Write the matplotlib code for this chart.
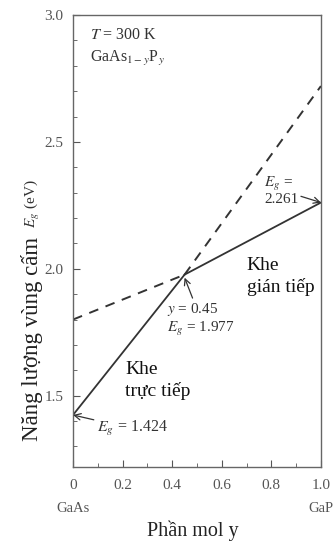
import matplotlib.pyplot as plt
from matplotlib.ticker import MultipleLocator

plt.rcParams['font.family'] = ['Liberation Serif', 'DejaVu Serif']
plt.rcParams['mathtext.fontset'] = 'stix'

# mole fraction y and band gap values (eV)
direct_y = [0.0, 0.45]
direct_E = [1.424, 1.977]
direct_ext_y = [0.45, 1.0]
direct_ext_E = [1.977, 2.72]
indirect_y = [0.45, 1.0]
indirect_E = [1.977, 2.261]
indirect_ext_y = [0.0, 0.45]
indirect_ext_E = [1.80, 1.977]

xticks = [0, 0.2, 0.4, 0.6, 0.8, 1.0]
xtick_labels = ['0', '0.2', '0.4', '0.6', '0.8', '1.0']
yticks = [1.5, 2.0, 2.5, 3.0]

fig = plt.figure(figsize=(3.35, 5.55), dpi=100)
ax = fig.add_axes([0.218, 0.159, 0.740, 0.814])

ax.plot(direct_y, direct_E, color='#333333', lw=1.3)
ax.plot(indirect_y, indirect_E, color='#333333', lw=1.3)
ax.plot(direct_ext_y, direct_ext_E, color='#333333', lw=1.4, ls=(0, (5, 4)))
ax.plot(indirect_ext_y, indirect_ext_E, color='#333333', lw=1.4, ls=(0, (5, 4)))

ax.set_xlim(0, 1.0)
ax.set_ylim(1.22, 3.0)
ax.set_xticks(xticks)
ax.set_xticklabels(xtick_labels)
ax.set_yticks(yticks)
ax.set_yticklabels(['1.5', '2.0', '2.5', '3.0'])
ax.xaxis.set_minor_locator(MultipleLocator(0.1))
ax.yaxis.set_minor_locator(MultipleLocator(0.1))
ax.tick_params(which='both', direction='in', colors='#555555', labelsize=11,
               labelcolor='#555555', top=False, right=False)
ax.tick_params(which='major', length=5)
ax.tick_params(axis='x', which='major', pad=9)
ax.tick_params(axis='y', which='major', pad=7)
ax.tick_params(which='minor', length=3)
for s in ax.spines.values():
    s.set_color('#666666')
    s.set_linewidth(1.0)

tc = '#333333'
ax.text(0.07, 2.92, r'$T$ = 300 K', fontsize=11.5, color=tc, va='center')
ax.text(0.07, 2.83, r'GaAs$_{1-y}$P$_y$', fontsize=11.5, color=tc, va='center')

ax.annotate('$E_g$ =\n2.261', xy=(1.0, 2.261), xytext=(0.77, 2.31),
            fontsize=11, color=tc, va='center', linespacing=1.0,
            arrowprops=dict(arrowstyle='->', color=tc, lw=0.9,
                            shrinkA=22, shrinkB=0))
ax.annotate('$y$ = 0.45\n$E_g$ = 1.977', xy=(0.45, 1.965), xytext=(0.38, 1.80),
            fontsize=11, color=tc, va='center', linespacing=1.2,
            arrowprops=dict(arrowstyle='->', color=tc, lw=0.9,
                            shrinkA=17, shrinkB=0))
ax.annotate('$E_g$ = 1.424', xy=(0.0, 1.424), xytext=(0.095, 1.37),
            fontsize=11.5, color=tc, va='center',
            arrowprops=dict(arrowstyle='->', color=tc, lw=0.9,
                            shrinkA=0, shrinkB=0), annotation_clip=False)

ax.text(0.70, 1.97, 'Khe\ngián tiếp', fontsize=14, color='#111111',
        va='center', linespacing=1.25)
ax.text(0.21, 1.56, 'Khe\ntrực tiếp', fontsize=14, color='#111111',
        va='center', linespacing=1.25)

ax.text(0.0, -0.1, 'GaAs', transform=ax.transAxes, ha='center',
        fontsize=10.5, color='#555555')
ax.text(1.0, -0.1, 'GaP', transform=ax.transAxes, ha='center',
        fontsize=10.5, color='#555555')

fig.text(0.577, 0.035, 'Phần mol y', ha='center', fontsize=14.5, color='#222222')
fig.text(0.095, 0.205, 'Năng lượng vùng cấm', rotation=90,
         ha='center', va='bottom', fontsize=16.5, color='#222222')
fig.text(0.097, 0.59, r'$E_g$ (eV)', rotation=90,
         ha='center', va='bottom', fontsize=11, color='#333333')

fig.savefig('out.png', dpi=100)
